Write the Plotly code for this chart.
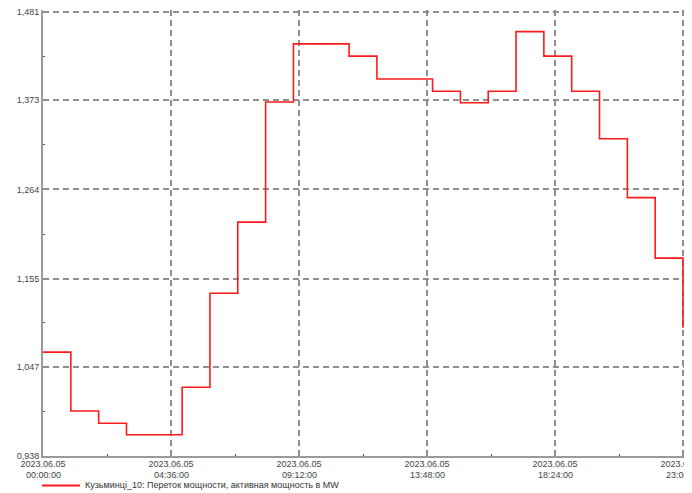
import plotly.graph_objects as go

hours = list(range(24))
times = [f"2023-06-05 {h:02d}:00:00" for h in hours]
values = [1.065, 0.993, 0.978, 0.964, 0.964, 1.022, 1.137, 1.224, 1.371, 1.442,
          1.442, 1.427, 1.399, 1.399, 1.384, 1.370, 1.384, 1.457, 1.427, 1.384,
          1.326, 1.254, 1.180, 1.095]

y_ticks = [0.938, 1.047, 1.155, 1.264, 1.373, 1.481]
y_ticktext = ["0,938", "1,047", "1,155", "1,264", "1,373", "1,481"]
x_ticks = ["2023-06-05 00:00:00", "2023-06-05 04:36:00", "2023-06-05 09:12:00",
           "2023-06-05 13:48:00", "2023-06-05 18:24:00", "2023-06-05 23:00:00"]
x_tick_dates = ["2023.06.05"] * 6
x_tick_times = ["00:00:00", "04:36:00", "09:12:00", "13:48:00", "18:24:00", "23:00:00"]
x_minor = ["2023-06-05 02:18:00", "2023-06-05 06:54:00", "2023-06-05 11:30:00",
           "2023-06-05 16:06:00", "2023-06-05 20:42:00"]
y_minor = [(a + b) / 2 for a, b in zip(y_ticks[:-1], y_ticks[1:])]

series_name = "Кузьминці_10: Переток мощности, активная мощность в MW"

fig = go.Figure()
fig.add_trace(go.Scatter(
    x=times, y=values, mode="lines", line=dict(shape="hv", color="#ff1a1a", width=1.6),
    name=series_name, showlegend=False))

# the page body has an 8px margin, so the figure is sized/offset to compensate
W, H = 684, 485
L, R, T, B = 35, 7, 2, 37
PW, PH = W - L - R, H - T - B
plot_bottom = H - B

grid = "#8f8f8f"
fig.update_layout(
    width=W, height=H,
    margin=dict(l=L, r=R, t=T, b=B, autoexpand=False),
    paper_bgcolor="white", plot_bgcolor="white",
    font=dict(family="Liberation Sans, Arial, sans-serif", size=9, color="#444"),
    showlegend=False,
    xaxis=dict(
        type="date", automargin=False, ticklabeloverflow="allow",
        ticklabelstandoff=-2,
        range=["2023-06-05 00:00:00", "2023-06-05 23:04:19"],
        tickmode="array", tickvals=x_ticks, ticktext=x_tick_dates,
        showgrid=True, gridcolor=grid, griddash="6px,4px", gridwidth=1.5,
        showline=True, linecolor="#9a9a9a", linewidth=2,
        ticks="", ticklen=0,
        minor=dict(tickmode="array", tickvals=x_minor, ticks="inside", ticklen=2,
                   tickcolor="#555", showgrid=False),
        zeroline=False, tickangle=0,
    ),
    yaxis=dict(
        automargin=False, ticklabeloverflow="allow",
        range=[0.938, 1.48345],
        tickmode="array", tickvals=y_ticks, ticktext=y_ticktext,
        showgrid=True, gridcolor=grid, griddash="6px,4px", gridwidth=1.5,
        showline=True, linecolor="#9a9a9a", linewidth=2,
        ticks="", ticklen=0,
        minor=dict(tickmode="array", tickvals=y_minor, ticks="inside", ticklen=2,
                   tickcolor="#555", showgrid=False),
        zeroline=False,
    ),
)

# second line of the x tick labels (tight line spacing as in the reference)
time_y = -(467 - plot_bottom) / PH
for xv, t in zip(x_ticks, x_tick_times):
    fig.add_annotation(x=xv, xref="x", yref="paper", y=time_y, yanchor="middle",
                       xanchor="center", showarrow=False, text=t,
                       font=dict(size=9, color="#444"))

# legend drawn manually to match the reference's long legend swatch
leg_y = -(477.5 - plot_bottom) / PH
fig.add_shape(type="line", xref="paper", yref="paper",
              x0=(-1) / PW, x1=(37) / PW, y0=leg_y, y1=leg_y,
              line=dict(color="#ff1a1a", width=2))
fig.add_annotation(xref="paper", yref="paper", x=(40) / PW, y=leg_y,
                   xanchor="left", yanchor="middle", showarrow=False,
                   text=series_name, font=dict(size=9, color="#333"))

fig.write_html("out.html")
